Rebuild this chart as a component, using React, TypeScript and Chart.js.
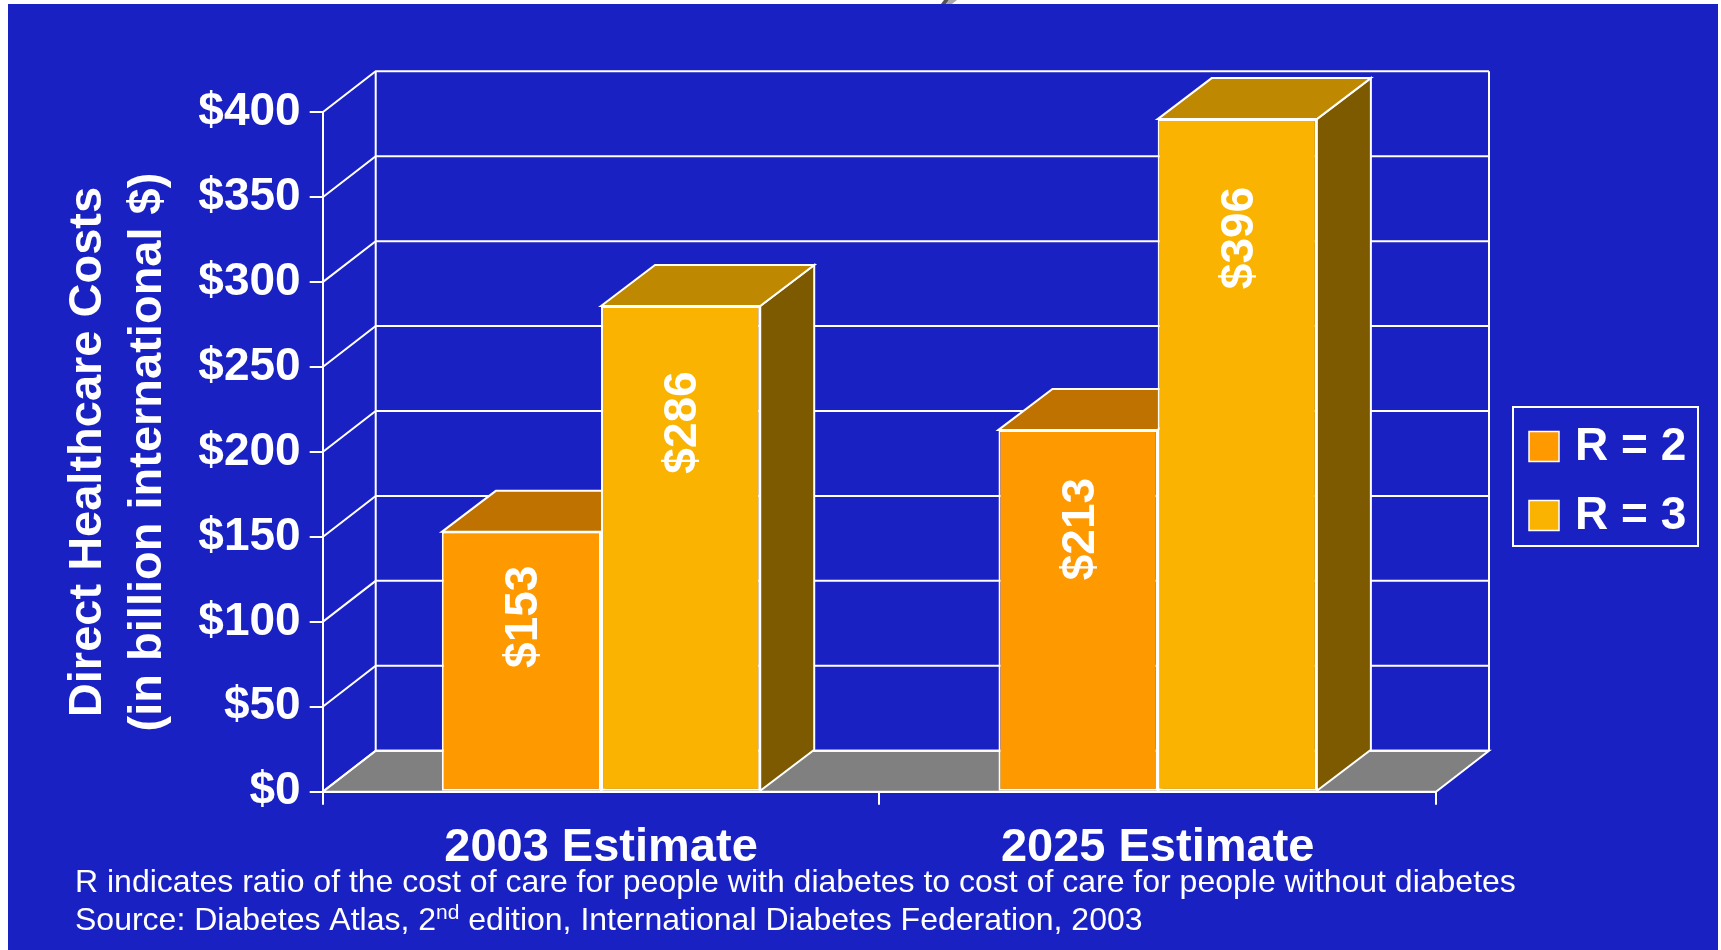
import { useEffect, useRef } from "react";
import { Chart, registerables } from "chart.js";

Chart.register(...registerables);

// ---------- data ----------
const categories = ["2003 Estimate", "2025 Estimate"];
const seriesLabels = ["R = 2", "R = 3"];
const r2Values = [153, 213];
const r3Values = [286, 396];
const yMin = 0;
const yMax = 400;
const yStep = 50;
const yTitle = ["Direct Healthcare Costs", "(in billion international $)"];
const footnoteLine1 =
  "R indicates ratio of the cost of care for people with diabetes to cost of care for people without diabetes";
const footnoteLine2 = ["Source: Diabetes Atlas, 2", "nd", " edition, International Diabetes Federation, 2003"];

// ---------- style ----------
const W = 1721;
const H = 950;
const BLUE = "#1A21C3";
const FRONT = ["#FF9900", "#F9B300"];
const TOPC = ["#C07200", "#BE8800"];
const SIDE = ["#7F4C00", "#7D5A00"];
const FLOOR = "#808080";
const WALL_DX = 53;
const BAR_DX = 54;
const DY = 41;
const FONT = "'Liberation Sans', Arial, sans-serif";

function poly(ctx: CanvasRenderingContext2D, pts: number[][], fill?: string, stroke = true) {
  ctx.beginPath();
  ctx.moveTo(pts[0][0], pts[0][1]);
  for (let i = 1; i < pts.length; i++) ctx.lineTo(pts[i][0], pts[i][1]);
  ctx.closePath();
  if (fill) {
    ctx.fillStyle = fill;
    ctx.fill();
  }
  if (stroke) ctx.stroke();
}

function labelDrop(v: number) {
  return Math.min(70, 50 + (v - 153) * 0.14);
}

const scenePlugin = {
  id: "scene3d",
  beforeDraw(chart: any) {
    const ctx: CanvasRenderingContext2D = chart.ctx;
    ctx.save();
    ctx.fillStyle = "#ffffff";
    ctx.fillRect(0, 0, W, H);
    ctx.fillStyle = BLUE;
    ctx.fillRect(8, 4, 1710, H - 4);
    // tiny clipped fragment above the panel
    poly(ctx, [[941, 4], [946, 4], [949, 0], [944, 0]], "#555555", false);
    poly(ctx, [[946, 4], [952, 4], [957, 0], [949, 0]], "#aaaaaa", false);
    ctx.restore();
  },
  beforeDatasetsDraw(chart: any) {
    const ctx: CanvasRenderingContext2D = chart.ctx;
    const { left: L, right: R, top: T, bottom: B } = chart.chartArea;
    const ys = chart.scales.y;
    ctx.save();
    ctx.strokeStyle = "#ffffff";
    ctx.lineWidth = 2;
    ctx.lineJoin = "miter";
    // floor
    poly(ctx, [[L, B], [L + WALL_DX, B - DY], [R + WALL_DX, B - DY], [R, B]], FLOOR, true);
    // side + back wall grid lines
    ys.ticks.forEach((t: any) => {
      const py = ys.getPixelForValue(t.value);
      ctx.beginPath();
      ctx.moveTo(L, py);
      ctx.lineTo(L + WALL_DX, py - DY);
      ctx.lineTo(R + WALL_DX, py - DY);
      ctx.stroke();
    });
    ctx.beginPath();
    ctx.moveTo(L + WALL_DX, T - DY);
    ctx.lineTo(L + WALL_DX, B - DY);
    ctx.moveTo(R + WALL_DX, T - DY);
    ctx.lineTo(R + WALL_DX, B - DY);
    ctx.stroke();
    // bar tops and sides
    chart.data.datasets.forEach((_ds: any, di: number) => {
      const meta = chart.getDatasetMeta(di);
      meta.data.forEach((bar: any) => {
        const { x, y, base, width } = bar.getProps(["x", "y", "base", "width"], true);
        const xl = x - width / 2;
        const xr = x + width / 2;
        poly(ctx, [[xr, y], [xr + BAR_DX, y - DY], [xr + BAR_DX, base - DY], [xr, base]], SIDE[di]);
        poly(ctx, [[xl, y], [xl + BAR_DX, y - DY], [xr + BAR_DX, y - DY], [xr, y]], TOPC[di]);
      });
    });
    ctx.restore();
  },
  afterDatasetsDraw(chart: any) {
    const ctx: CanvasRenderingContext2D = chart.ctx;
    const ys = chart.scales.y;
    ctx.save();
    ctx.fillStyle = "#ffffff";
    ctx.font = `bold 46px ${FONT}`;
    ctx.textAlign = "center";
    ctx.textBaseline = "middle";
    chart.data.datasets.forEach((ds: any, di: number) => {
      chart.getDatasetMeta(di).data.forEach((bar: any, i: number) => {
        const v = ds.data[i];
        const cy = ys.getPixelForValue(v - labelDrop(v));
        ctx.save();
        ctx.translate(bar.x + 3, cy);
        ctx.rotate(-Math.PI / 2);
        ctx.fillText("$" + v, 0, 0);
        ctx.restore();
      });
    });
    ctx.restore();
  },
  afterDraw(chart: any) {
    const ctx: CanvasRenderingContext2D = chart.ctx;
    ctx.save();
    // legend
    ctx.strokeStyle = "#ffffff";
    ctx.lineWidth = 2;
    ctx.strokeRect(1513, 407, 185, 139);
    const rows = [446.5, 515.5];
    chart.data.datasets.forEach((ds: any, di: number) => {
      const cy = rows[di];
      ctx.fillStyle = ds.backgroundColor;
      ctx.fillRect(1529, cy - 15, 30, 30);
      ctx.lineWidth = 1.5;
      ctx.strokeRect(1529, cy - 15, 30, 30);
      ctx.fillStyle = "#ffffff";
      ctx.font = `bold 46px ${FONT}`;
      ctx.textAlign = "left";
      ctx.textBaseline = "middle";
      ctx.fillText(ds.label, 1575, cy + 1);
    });
    // footnote
    ctx.fillStyle = "#ffffff";
    ctx.textAlign = "left";
    ctx.textBaseline = "alphabetic";
    ctx.font = `32px ${FONT}`;
    ctx.fillText(footnoteLine1, 75, 892);
    let x = 75;
    ctx.fillText(footnoteLine2[0], x, 930);
    x += ctx.measureText(footnoteLine2[0]).width;
    ctx.font = `21px ${FONT}`;
    ctx.fillText(footnoteLine2[1], x, 919);
    x += ctx.measureText(footnoteLine2[1]).width;
    ctx.font = `32px ${FONT}`;
    ctx.fillText(footnoteLine2[2], x, 930);
    ctx.restore();
  },
};

export default function App() {
  const ref = useRef<HTMLCanvasElement | null>(null);

  useEffect(() => {
    document.body.style.margin = "0";
    const canvas = ref.current;
    if (!canvas) return;
    const tickFont = { family: FONT, size: 46, weight: "bold" as const };
    const chart = new Chart(canvas, {
      type: "bar",
      data: {
        labels: categories,
        datasets: [
          {
            label: seriesLabels[0],
            data: r2Values,
            backgroundColor: FRONT[0],
            borderColor: "#ffffff",
            borderWidth: 2,
            borderSkipped: false,
            barPercentage: 1,
            categoryPercentage: 0.572,
          },
          {
            label: seriesLabels[1],
            data: r3Values,
            backgroundColor: FRONT[1],
            borderColor: "#ffffff",
            borderWidth: 2,
            borderSkipped: false,
            barPercentage: 1,
            categoryPercentage: 0.572,
          },
        ],
      },
      options: {
        responsive: false,
        devicePixelRatio: 1,
        animation: false,
        events: [],
        layout: { padding: { top: 112.3, right: 285, left: 0, bottom: 0 } },
        plugins: {
          legend: { display: false },
          tooltip: { enabled: false },
          title: { display: false },
        },
        scales: {
          x: {
            grid: {
              display: true,
              drawOnChartArea: false,
              drawTicks: true,
              tickLength: 13,
              color: "#ffffff",
              lineWidth: 2,
              offset: true,
            },
            border: { display: true, color: "#ffffff", width: 2 },
            ticks: {
              color: "#ffffff",
              font: { family: FONT, size: 47, weight: "bold" },
              padding: 15,
              maxRotation: 0,
              autoSkip: false,
            },
            afterFit: (s: any) => {
              s.height = H - 791.7;
            },
          },
          y: {
            min: yMin,
            max: yMax,
            ticks: {
              stepSize: yStep,
              color: "#ffffff",
              font: tickFont,
              padding: 9,
              callback: (v: any) => "$" + v,
            },
            grid: {
              drawOnChartArea: false,
              drawTicks: true,
              tickLength: 13,
              color: "#ffffff",
              lineWidth: 2,
            },
            border: { display: true, color: "#ffffff", width: 2 },
            title: {
              display: true,
              text: yTitle,
              color: "#ffffff",
              font: { family: FONT, size: 47, weight: "bold", lineHeight: 1.28 },
              padding: { top: 58, bottom: 0 },
            },
            afterFit: (s: any) => {
              s.width = 322.7;
            },
          },
        },
      },
      plugins: [scenePlugin],
    });
    return () => chart.destroy();
  }, []);

  return (
    <div style={{ width: W, height: H, position: "relative" }}>
      <canvas ref={ref} width={W} height={H} style={{ display: "block" }} />
    </div>
  );
}
